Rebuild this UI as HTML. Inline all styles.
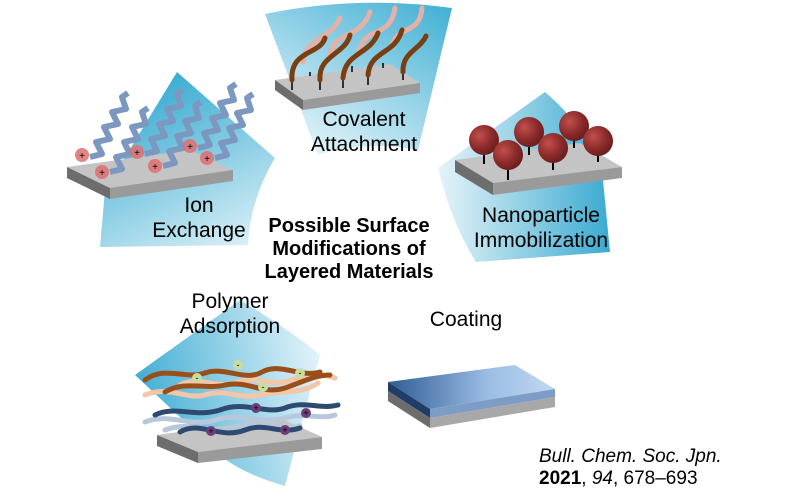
<!DOCTYPE html>
<html><head><meta charset="utf-8"><style>
html,body{margin:0;padding:0;background:#fff;width:800px;height:500px;overflow:hidden}
svg{display:block}
text{font-family:"Liberation Sans",sans-serif;fill:#000}
</style></head><body>
<svg width="800" height="500" viewBox="0 0 800 500" xmlns="http://www.w3.org/2000/svg">
<defs>
<linearGradient id="gCov" x1="1" y1="0" x2="0.3" y2="1"><stop offset="0" stop-color="#3eaed3"/><stop offset="1" stop-color="#e2f3f9"/></linearGradient>
<linearGradient id="gIon" x1="0.5" y1="0" x2="1" y2="1"><stop offset="0" stop-color="#3eaed3"/><stop offset="1" stop-color="#e5f4f9"/></linearGradient>
<linearGradient id="gNano" x1="0" y1="0" x2="1" y2="0"><stop offset="0" stop-color="#e6f4f9"/><stop offset="1" stop-color="#3aaad0"/></linearGradient>
<linearGradient id="gPoly" x1="0" y1="0.5" x2="1" y2="0.3"><stop offset="0" stop-color="#40add3"/><stop offset="1" stop-color="#e2f3f9"/></linearGradient>
<linearGradient id="gCoat" x1="0" y1="0" x2="1" y2="0"><stop offset="0" stop-color="#2f5c93"/><stop offset="0.6" stop-color="#9bbde4"/><stop offset="1" stop-color="#c2d8f0"/></linearGradient>
<radialGradient id="gBall" cx="0.35" cy="0.35" r="0.7"><stop offset="0" stop-color="#c0504d"/><stop offset="0.6" stop-color="#8c2b2b"/><stop offset="1" stop-color="#6a1c1c"/></radialGradient>
</defs>

<path d="M265,14 Q355,-5 452,8 L418,150 Q365,140 318,155 Z" fill="url(#gCov)"/>
<path d="M177,72 L275,158 Q250,200 248,245 L100,247 L105,190 Z" fill="url(#gIon)"/>
<path d="M438,168 L545,92 Q590,130 603,180 L610,252 L476,262 Q450,220 438,168 Z" fill="url(#gNano)"/>
<path d="M135,375 L240,300 Q290,330 320,355 L285,486 Q230,470 210,445 Z" fill="url(#gPoly)"/>

<polygon points="275,80 390,64 420,83 303,100" fill="#c4c4c4"/>
<polygon points="303,100 420,83 420,93 303,110" fill="#9a9a9a"/>
<polygon points="275,80 303,100 303,110 275,90" fill="#6d6d6d"/>
<g stroke="#000" stroke-width="1.5">
<line x1="292" y1="82" x2="292" y2="90"/><line x1="320" y1="80" x2="320" y2="90"/><line x1="343" y1="78" x2="343" y2="88"/><line x1="368" y1="75" x2="368" y2="85"/><line x1="403" y1="72" x2="403" y2="80"/><line x1="310" y1="72" x2="310" y2="76"/><line x1="352" y1="66" x2="352" y2="72"/><line x1="383" y1="63" x2="383" y2="68"/>
</g>
<g fill="none" stroke-linecap="round" stroke-width="5">
<path d="M303,62 C305,38 330,40 340,18" stroke="#e5b1a6"/>
<path d="M330,55 C335,30 360,40 370,12" stroke="#e5b1a6"/>
<path d="M360,50 C365,25 390,40 395,8" stroke="#e5b1a6"/>
<path d="M392,45 C398,25 420,35 422,8" stroke="#e5b1a6"/>
<path d="M292,80 C290,50 320,55 325,38" stroke="#7a3f10"/>
<path d="M320,80 C318,55 345,55 350,35" stroke="#7a3f10"/>
<path d="M343,78 C345,52 370,55 378,33" stroke="#7a3f10"/>
<path d="M368,75 C370,50 395,55 402,30" stroke="#7a3f10"/>
<path d="M403,72 C402,52 420,50 426,36" stroke="#7a3f10"/>
</g>

<polygon points="67,167 190,150 233,170 110,188" fill="#c4c4c4"/>
<polygon points="110,188 233,170 233,181 110,199" fill="#9a9a9a"/>
<polygon points="67,167 110,188 110,199 67,178" fill="#6d6d6d"/>
<g fill="none" stroke="#7d98c0" stroke-width="6" stroke-linejoin="round">
<path d="M90,157 l12,-3 l-6,-12 l14,-3 l-6,-12 l14,-3 l-6,-12 l14,-3 l-4,-12 l6,-4"/>
<path d="M110,172 l12,-3 l-6,-12 l14,-3 l-6,-12 l14,-3 l-6,-12 l14,-3 l-4,-12 l6,-4"/>
<path d="M145,154 l12,-3 l-6,-12 l14,-3 l-6,-12 l14,-3 l-6,-12 l14,-3 l-4,-12 l6,-4"/>
<path d="M163,166 l12,-3 l-6,-12 l14,-3 l-6,-12 l14,-3 l-6,-12 l14,-3 l-4,-12 l6,-4"/>
<path d="M198,148 l12,-3 l-6,-12 l14,-3 l-6,-12 l14,-3 l-6,-12 l14,-3 l-4,-12 l6,-4"/>
<path d="M215,158 l12,-3 l-6,-12 l14,-3 l-6,-12 l14,-3 l-6,-12 l14,-3 l-4,-12 l6,-4"/>
</g>
<g fill="#e07070" opacity="0.85">
<circle cx="82" cy="155" r="7"/><circle cx="102" cy="172" r="7"/><circle cx="137" cy="152" r="7"/><circle cx="155" cy="166" r="7"/><circle cx="190" cy="146" r="7"/><circle cx="207" cy="158" r="7"/>
</g>
<g font-size="10" text-anchor="middle">
<text x="82" y="159">+</text><text x="102" y="176">+</text><text x="137" y="156">+</text><text x="155" y="170">+</text><text x="190" y="150">+</text><text x="207" y="162">+</text>
</g>

<polygon points="455,160 580,143 622,167 493,183" fill="#c4c4c4"/>
<polygon points="493,183 622,167 622,178 493,195" fill="#9a9a9a"/>
<polygon points="455,160 493,183 493,195 455,172" fill="#6d6d6d"/>
<g stroke="#000" stroke-width="2">
<line x1="484" y1="155" x2="484" y2="164"/><line x1="508" y1="170" x2="508" y2="180"/><line x1="529" y1="145" x2="529" y2="155"/><line x1="553" y1="160" x2="553" y2="170"/><line x1="574" y1="140" x2="574" y2="148"/><line x1="598" y1="152" x2="598" y2="162"/>
</g>
<g fill="url(#gBall)">
<circle cx="484" cy="140" r="15"/><circle cx="529" cy="132" r="15"/><circle cx="574" cy="126" r="15"/><circle cx="508" cy="155" r="15"/><circle cx="553" cy="148" r="15"/><circle cx="598" cy="141" r="15"/>
</g>

<polygon points="157,435 280,418 322,437 198,452" fill="#c4c4c4"/>
<polygon points="198,452 322,437 322,449 198,463" fill="#9a9a9a"/>
<polygon points="157,435 198,452 198,463 157,446" fill="#6d6d6d"/>
<g fill="none" stroke-width="5" stroke-linecap="round">
<path d="M145,395 C170,385 185,400 205,395 C225,388 240,400 260,395 C280,390 300,395 318,383" stroke="#f2c6a6"/>
<path d="M180,385 C200,375 215,390 238,382 C258,375 270,388 292,380 C305,375 315,372 335,378" stroke="#f2c6a6"/>
<path d="M145,380 C165,365 185,380 205,373 C225,366 245,382 262,372 C280,362 300,378 320,372" stroke="#9a4e1a"/>
<path d="M165,392 C185,380 205,390 225,385 C248,380 262,395 285,388 C300,383 315,375 330,375" stroke="#9a4e1a"/>
<path d="M145,422 C170,412 190,428 215,420 C240,412 260,425 285,418 C305,412 320,420 335,415" stroke="#b8c8dc"/>
<path d="M165,430 C190,420 210,435 235,428 C260,420 280,432 300,426" stroke="#b8c8dc"/>
<path d="M155,415 C175,405 195,418 220,410 C245,400 265,415 285,408 C305,400 320,410 338,405" stroke="#2e4a70"/>
<path d="M180,432 C200,420 220,440 245,430 C265,422 280,435 300,428" stroke="#2e4a70"/>
</g>
<g>
<circle cx="197" cy="378" r="5" fill="#c8dca0"/><circle cx="238" cy="365" r="5" fill="#c8dca0"/><circle cx="263" cy="387" r="5" fill="#c8dca0"/><circle cx="300" cy="373" r="5" fill="#c8dca0"/>
<circle cx="256" cy="408" r="5" fill="#6a3f7a"/><circle cx="306" cy="413" r="5" fill="#6a3f7a"/><circle cx="211" cy="431" r="5" fill="#6a3f7a"/><circle cx="285" cy="430" r="5" fill="#6a3f7a"/>
</g>
<g font-size="9" text-anchor="middle" fill="#000">
<text x="197" y="381">-</text><text x="238" y="368">-</text><text x="263" y="390">-</text><text x="300" y="376">-</text>
<text x="256" y="411">+</text><text x="306" y="416">+</text><text x="211" y="434">+</text><text x="285" y="433">+</text>
</g>

<polygon points="388,382 515,365 555,389 430,409" fill="url(#gCoat)"/>
<polygon points="430,409 555,389 555,397 430,418" fill="#7d9cc6"/>
<polygon points="388,382 430,409 430,418 388,391" fill="#1f3d66"/>
<polygon points="430,418 555,397 555,407 430,428" fill="#a8a8a8"/>
<polygon points="388,391 430,418 430,428 388,401" fill="#6d6d6d"/>

<g font-size="21" text-anchor="middle">
<text x="364" y="126">Covalent</text><text x="364" y="151">Attachment</text>
<text x="199" y="212">Ion</text><text x="199" y="237">Exchange</text>
<text x="541" y="222">Nanoparticle</text><text x="541" y="247">Immobilization</text>
<text x="230" y="308">Polymer</text><text x="230" y="333">Adsorption</text>
<text x="466" y="326">Coating</text>
</g>
<g font-size="20" font-weight="bold" text-anchor="middle">
<text x="349" y="232">Possible Surface</text>
<text x="349" y="255">Modifications of</text>
<text x="349" y="278">Layered Materials</text>
</g>
<text x="539" y="462" font-size="19" font-style="italic">Bull. Chem. Soc. Jpn.</text>
<text x="539" y="484" font-size="19"><tspan font-weight="bold">2021</tspan>, <tspan font-style="italic">94</tspan>, 678–693</text>
</svg>
</body></html>
